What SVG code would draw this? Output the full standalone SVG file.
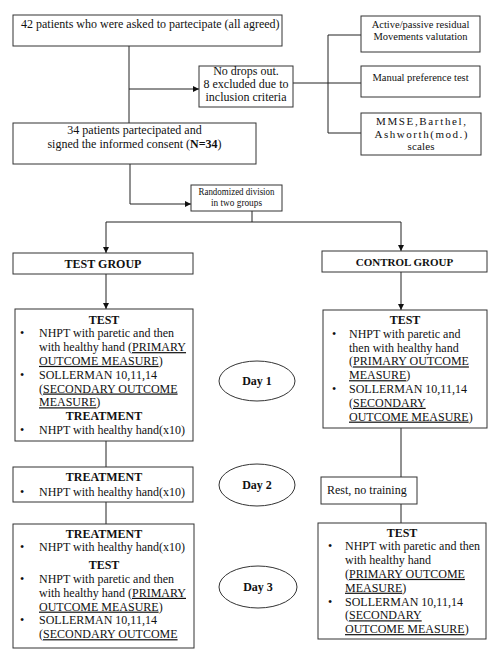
<svg xmlns="http://www.w3.org/2000/svg" width="500" height="662" viewBox="0 0 500 662">
<defs>
<style>
.box{fill:#fff;stroke:#333;stroke-width:1}
.ell{fill:#fff;stroke:#333;stroke-width:1}
.ln{fill:none;stroke:#222;stroke-width:1}
text{font-family:"Liberation Serif","Times New Roman",serif;font-size:12px;fill:#111}
.c{text-anchor:middle}
.b{font-weight:bold}
.u{text-decoration:underline}
.s{font-size:10.5px}
.xs{font-size:10px}
.m{font-size:11px}
</style>
<marker id="ah" viewBox="0 0 8 8" refX="8" refY="4" markerWidth="6" markerHeight="6" orient="auto" markerUnits="userSpaceOnUse">
<path d="M0,0 L8,4 L0,8 z" fill="#111"/>
</marker>
</defs>
<rect width="500" height="662" fill="#fff"/>

<g id="connectors">
<path class="ln" d="M129,46 V123"/>
<path class="ln" d="M129,89 H199" marker-end="url(#ah)"/>
<path class="ln" d="M293,83 H361"/>
<path class="ln" d="M361,35 H328 V133 H361"/>
<path class="ln" d="M130,164 V204 H191" marker-end="url(#ah)"/>
<path class="ln" d="M252,211 V222"/>
<path class="ln" d="M106,222 H401"/>
<path class="ln" d="M106,222 V253" marker-end="url(#ah)"/>
<path class="ln" d="M401,222 V251" marker-end="url(#ah)"/>
<path class="ln" d="M106,274 V309" marker-end="url(#ah)"/>
<path class="ln" d="M401,272 V310" marker-end="url(#ah)"/>
<path class="ln" d="M106,441 V467"/>
<path class="ln" d="M106,502 V524"/>
<path class="ln" d="M401,428 V477"/>
<path class="ln" d="M401,504 V523"/>
</g>

<g id="n-asked">
<rect class="box" x="13" y="15" width="269" height="31"/>
<text x="21" y="28">42 patients who were asked to partecipate (all agreed)</text>
</g>

<g id="n-excluded">
<rect class="box" x="199" y="66" width="94" height="41"/>
<text class="c" x="246" y="75">No drops out.</text>
<text class="c" x="246" y="88">8 excluded due to</text>
<text class="c" x="246" y="101">inclusion criteria</text>
</g>

<g id="n-active">
<rect class="box" x="361" y="16" width="119" height="36"/>
<text class="c s" x="420.5" y="27.5">Active/passive residual</text>
<text class="c s" x="420.5" y="39.5">Movements valutation</text>
</g>

<g id="n-manual">
<rect class="box" x="361" y="66" width="119" height="31"/>
<text class="c s" x="420.5" y="80.5">Manual preference test</text>
</g>

<g id="n-scales">
<rect class="box" x="361" y="113" width="120" height="42"/>
<text class="c m" x="421" y="125" textLength="90" lengthAdjust="spacing">MMSE,Barthel,</text>
<text class="c m" x="421" y="137.5" textLength="93" lengthAdjust="spacing">Ashworth(mod.)</text>
<text class="c m" x="421" y="150" textLength="27" lengthAdjust="spacing">scales</text>
</g>

<g id="n-consent">
<rect class="box" x="13" y="123" width="243" height="41"/>
<text class="c" x="134.5" y="134">34 patients partecipated and</text>
<text class="c" x="134.5" y="148">signed the informed consent (<tspan class="b">N=34</tspan>)</text>
</g>

<g id="n-random">
<rect class="box" x="191" y="185" width="91" height="26"/>
<text class="c xs" x="236.5" y="195" textLength="76" lengthAdjust="spacingAndGlyphs">Randomized division</text>
<text class="c xs" x="236.5" y="206" textLength="51" lengthAdjust="spacingAndGlyphs">in two groups</text>
</g>

<g id="n-testgroup">
<rect class="box" x="13" y="253" width="180" height="21"/>
<text class="c b" x="103" y="267.5">TEST GROUP</text>
</g>

<g id="n-controlgroup">
<rect class="box" x="322" y="251" width="165" height="21"/>
<text class="c b m" x="404.5" y="265.5">CONTROL GROUP</text>
</g>

<g id="n-test-day1">
<rect class="box" x="15" y="309" width="178" height="132"/>
<text class="c b" x="104" y="323.5">TEST</text>
<text x="20" y="337.3">•</text>
<text x="39" y="337.3">NHPT with paretic and then</text>
<text x="39" y="351.1">with healthy hand (<tspan class="u">PRIMARY</tspan></text>
<text x="39" y="364.9"><tspan class="u">OUTCOME MEASURE</tspan>)</text>
<text x="20" y="378.7">•</text>
<text x="39" y="378.7">SOLLERMAN 10,11,14</text>
<text x="39" y="392.5">(<tspan class="u">SECONDARY OUTCOME</tspan></text>
<text x="39" y="406.3"><tspan class="u">MEASURE</tspan>)</text>
<text class="c b" x="104" y="420.1">TREATMENT</text>
<text x="20" y="433.9">•</text>
<text x="39" y="433.9">NHPT with healthy hand(x10)</text>
</g>

<g id="n-day1">
<ellipse class="ell" cx="257" cy="381" rx="38" ry="20"/>
<text class="c b" x="257" y="385">Day 1</text>
</g>

<g id="n-control-day1">
<rect class="box" x="323" y="310" width="164" height="118"/>
<text class="c b" x="405" y="324">TEST</text>
<text x="332" y="337.8">•</text>
<text x="349" y="337.8">NHPT with paretic and</text>
<text x="349" y="351.6">then with healthy hand</text>
<text x="349" y="365.4">(<tspan class="u">PRIMARY OUTCOME</tspan></text>
<text x="349" y="379.2"><tspan class="u">MEASURE</tspan>)</text>
<text x="332" y="393">•</text>
<text x="349" y="393">SOLLERMAN 10,11,14</text>
<text x="349" y="406.8">(<tspan class="u">SECONDARY</tspan></text>
<text x="349" y="420.6"><tspan class="u">OUTCOME MEASURE</tspan>)</text>
</g>

<g id="n-treat-day2">
<rect class="box" x="13" y="467" width="180" height="35"/>
<text class="c b" x="104" y="481">TREATMENT</text>
<text x="20" y="495.5">•</text>
<text x="39" y="495.5">NHPT with healthy hand(x10)</text>
</g>

<g id="n-day2">
<ellipse class="ell" cx="257" cy="485" rx="38" ry="21"/>
<text class="c b" x="257" y="489">Day 2</text>
</g>

<g id="n-rest">
<rect class="box" x="321" y="477" width="96" height="27"/>
<text x="327" y="494">Rest, no training</text>
</g>

<g id="n-test-day3">
<rect class="box" x="13" y="524" width="181" height="124"/>
<text class="c b" x="104" y="537.5">TREATMENT</text>
<text x="20" y="551.3">•</text>
<text x="39" y="551.3">NHPT with healthy hand(x10)</text>
<text class="c b" x="104" y="569">TEST</text>
<text x="20" y="583">•</text>
<text x="39" y="583">NHPT with paretic and then</text>
<text x="39" y="596.8">with healthy hand (<tspan class="u">PRIMARY</tspan></text>
<text x="39" y="610.6"><tspan class="u">OUTCOME MEASURE</tspan>)</text>
<text x="20" y="624.4">•</text>
<text x="39" y="624.4">SOLLERMAN 10,11,14</text>
<text x="39" y="638.2">(<tspan class="u">SECONDARY OUTCOME</tspan></text>
</g>

<g id="n-day3">
<ellipse class="ell" cx="258" cy="587" rx="39" ry="21"/>
<text class="c b" x="258" y="591">Day 3</text>
</g>

<g id="n-control-day3">
<rect class="box" x="318" y="523" width="168" height="116"/>
<text class="c b" x="402" y="536.5">TEST</text>
<text x="328" y="550.3">•</text>
<text x="345" y="550.3">NHPT with paretic and then</text>
<text x="345" y="564.1">with healthy hand</text>
<text x="345" y="577.9">(<tspan class="u">PRIMARY OUTCOME</tspan></text>
<text x="345" y="591.7"><tspan class="u">MEASURE</tspan>)</text>
<text x="328" y="605.5">•</text>
<text x="345" y="605.5">SOLLERMAN 10,11,14</text>
<text x="345" y="619.3">(<tspan class="u">SECONDARY</tspan></text>
<text x="345" y="633.1"><tspan class="u">OUTCOME MEASURE</tspan>)</text>
</g>
</svg>
